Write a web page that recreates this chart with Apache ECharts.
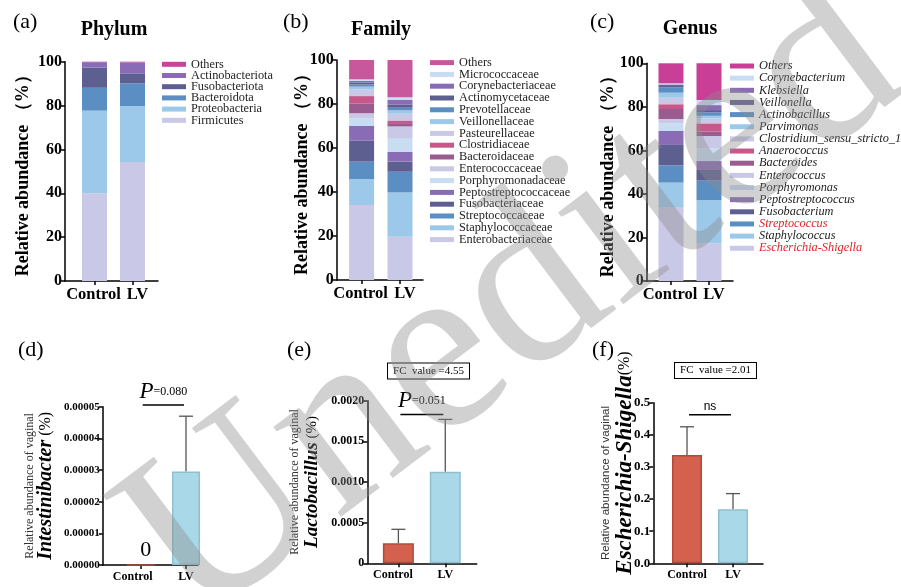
<!DOCTYPE html>
<html><head><meta charset="utf-8">
<script src="https://cdn.jsdelivr.net/npm/echarts@6/dist/echarts.min.js"></script>
<style>html,body{margin:0;padding:0;background:#fff}#c{width:901px;height:587px}</style>
</head><body><div id="c"></div>
<script>
// ---------------- DATA ----------------
const groups = ['Control', 'LV'];

// stacked from bottom to top
const phylumNames = ['Firmicutes','Proteobacteria','Bacteroidota','Fusobacteriota','Actinobacteriota','Others'];
const phylumControl = [40.0, 37.7, 10.4, 9.2, 2.5, 0.2];
const phylumLV      = [54.3, 25.5, 10.3, 4.6, 5.0, 0.3];

const familyNames = ['Enterobacteriaceae','Staphylococcaceae','Streptococcaceae','Fusobacteriaceae','Peptostreptococcaceae','Porphyromonadaceae','Enterococcaceae','Bacteroidaceae','Clostridiaceae','Pasteurellaceae','Veillonellaceae','Prevotellaceae','Actinomycetaceae','Corynebacteriaceae','Micrococcaceae','Others'];
const familyControl = [34.1, 11.8, 7.9, 9.5, 6.7, 3.5, 2.3, 4.5, 3.3, 3.1, 1.2, 1.0, 0.9, 0.7, 0.7, 8.8];
const familyLV      = [19.7, 20.1, 9.4, 4.6, 4.5, 5.9, 5.6, 1.5, 1.2, 3.1, 1.5, 1.2, 1.5, 2.1, 1.2, 16.9];

const genusNames = ['Escherichia-Shigella','Staphylococcus','Streptococcus','Fusobacterium','Peptostreptococcus','Porphyromonas','Enterococcus','Bacteroides','Anaerococcus','Clostridium_sensu_stricto_1','Parvimonas','Actinobacillus','Veillonella','Klebsiella','Corynebacterium','Others'];
const genusControl = [34.0, 11.2, 7.9, 9.4, 6.4, 3.5, 2.0, 4.6, 2.2, 3.0, 2.3, 2.5, 1.0, 0.3, 0.5, 9.2];
const genusLV      = [17.2, 19.9, 9.0, 4.9, 4.1, 5.9, 5.6, 2.0, 3.8, 2.3, 1.2, 1.6, 1.0, 2.3, 2.3, 16.9];
const genusRed = ['Streptococcus','Escherichia-Shigella'];

const intestMean = [0, 0.0000295];
const intestErr  = [0, 0.0000175];
const lactoMean  = [0.000246, 0.001127];
const lactoErr   = [0.000172, 0.000643];
const eshMean    = [0.337, 0.168];
const eshErr     = [0.088, 0.049];

const pIntest = '=0.080';
const pLacto = '=0.051';
const fcLacto = 'FC  value =4.55';
const fcEsh = 'FC  value =2.01';

// ---------------- STYLE ----------------
const SERIF = 'Liberation Serif';
const SANS = 'Liberation Sans';
const stackColors = ['#c9c8e6','#9cc8ea','#5b8fc4','#5e5f91','#8a6cb6','#c8ddf2','#c9c8e6','#9a5b8f','#c6598a','#c9c8e6','#9cc8ea','#5b8fc4','#5e5f91','#8a6cb6','#c8ddf2'];
const othersColors = ['#c8449a','#c6589b','#c93e97'];
const ctrlFill = '#d4604e', ctrlBorder = '#b4483b';
const lvFill = '#a9d9e8', lvBorder = '#8fc0cf';
const AX = {color:'#000', width:1.5};

// frame grids (axes) 0-5, data grids for stacked panels 6-8
const gridBoxes = [
  [65, 61.7, 93, 219.3],
  [336.7, 60, 86.3, 220],
  [646.7, 63.3, 86.3, 217.7],
  [102.7, 406.7, 95.3, 158.3],
  [367.3, 400.7, 109.4, 162.6],
  [653.3, 402.7, 109.7, 160.6],
  [75.5, 61.7, 76, 219.3],
  [342.4, 60, 76.8, 220],
  [652, 63.3, 76, 217.7]
];
const grids = gridBoxes.map(b => ({left:b[0], top:b[1], width:b[2], height:b[3], outerBoundsMode:'none', containLabel:false}));
const xRanges = [null,null,null,[0.161,2.265],[0.337,2.67],[0.267,2.652]];
const ctrlShift = [0,0,0,16,11,0];

const xAxes = [];
for (let i = 0; i < 3; i++) {
  xAxes.push({gridIndex:i, type:'value', min:0, max:1, axisLine:{show:true, onZero:false, lineStyle:AX},
    axisTick:{show:false}, axisLabel:{show:false}, splitLine:{show:false}});
}
for (let i = 3; i < 6; i++) {
  const sh = ctrlShift[i];
  xAxes.push({gridIndex:i, type:'value', min:xRanges[i][0], max:xRanges[i][1],
    axisLine:{show:true, onZero:false, lineStyle:AX},
    axisTick:{show:true, customValues:[1,2], length:4, lineStyle:AX},
    axisLabel:{show:true, customValues:[1,2], hideOverlap:false,
      formatter:v => Math.round(v) === 1 ? '{c|'+groups[0]+'}' : '{l|'+groups[1]+'}',
      rich:{c:{fontFamily:SERIF, fontWeight:'bold', fontSize:12, color:'#000', padding:[0,sh,0,0]},
            l:{fontFamily:SERIF, fontWeight:'bold', fontSize:12, color:'#000'}},
      margin:6},
    splitLine:{show:false}});
}
for (let i = 6; i < 9; i++) {
  xAxes.push({gridIndex:i, type:'category', boundaryGap:true,
    data:[{value:groups[0], textStyle:{padding:[0,2,0,0]}}, {value:groups[1], textStyle:{padding:[0,0,0,10]}}],
    axisLine:{show:false}, axisTick:{show:true, alignWithLabel:true, length:4, lineStyle:AX},
    axisLabel:{show:true, interval:0, hideOverlap:false, fontFamily:SERIF, fontWeight:'bold', fontSize:16.5, color:'#000', margin:5},
    splitLine:{show:false}});
}

function yAxisFor(i, cfg) {
  return Object.assign({
    gridIndex:i, type:'value', min:0,
    axisLine:{show:true, lineStyle:AX},
    axisTick:{show:true, length:4, lineStyle:AX},
    splitLine:{show:false},
    nameLocation:'middle', nameRotate:90, nameMoveOverlap:false
  }, cfg);
}
const topNameStyle = {fontFamily:SERIF, fontWeight:'bold', fontSize:18, color:'#000'};
const topLabel = {fontFamily:SERIF, fontWeight:'bold', fontSize:16, color:'#000', margin:3};

const yAxes = [
  yAxisFor(0,{max:100, interval:20, axisLabel:topLabel, name:'Relative abundance （%）', nameGap:33, nameTextStyle:topNameStyle}),
  yAxisFor(1,{max:100, interval:20, axisLabel:topLabel, name:'Relative abundance （%）', nameGap:25, nameTextStyle:topNameStyle}),
  yAxisFor(2,{max:100, interval:20, axisLabel:topLabel, name:'Relative abundance （%）', nameGap:29, nameTextStyle:topNameStyle}),
  yAxisFor(3,{max:0.00005, interval:0.00001,
    axisLabel:{fontFamily:SERIF, fontWeight:'bold', fontSize:11, color:'#000', margin:3, formatter:v=>v.toFixed(5)},
    name:'{a|Relative abundance of vaginal}\n{b|Intestinibacter}{c| (%)}', nameGap:47,
    nameTextStyle:{rich:{
      a:{fontFamily:SERIF, fontSize:12, color:'#333', lineHeight:12},
      b:{fontFamily:SERIF, fontStyle:'italic', fontWeight:'bold', fontSize:20, color:'#000', lineHeight:20},
      c:{fontFamily:SERIF, fontSize:16, color:'#000', lineHeight:20}}}}),
  yAxisFor(4,{max:0.002, interval:0.0005,
    axisLabel:{fontFamily:SERIF, fontWeight:'bold', fontSize:12, color:'#000', margin:3, formatter:v=>v===0?'0':v.toFixed(4)},
    name:'{a|Relative abundance of vaginal}\n{b|Lactobacillus}{c| (%)}', nameGap:45,
    nameTextStyle:{rich:{
      a:{fontFamily:SERIF, fontSize:12, color:'#333', lineHeight:14},
      b:{fontFamily:SERIF, fontStyle:'italic', fontWeight:'bold', fontSize:19, color:'#000', lineHeight:20},
      c:{fontFamily:SERIF, fontSize:15, color:'#000', lineHeight:20}}}}),
  yAxisFor(5,{max:0.5, interval:0.1,
    axisLabel:{fontFamily:SERIF, fontWeight:'bold', fontSize:13, color:'#000', margin:3, formatter:v=>v.toFixed(1)},
    name:'{a|Relative abundance of vaginal}\n{b|Escherichia-Shigella}{c|(%)}', nameGap:17,
    nameTextStyle:{rich:{
      a:{fontFamily:SANS, fontSize:11.5, color:'#333', lineHeight:14},
      b:{fontFamily:SERIF, fontStyle:'italic', fontWeight:'bold', fontSize:23, color:'#000', lineHeight:23, padding:[0,0,0,40]},
      c:{fontFamily:SERIF, fontSize:16, color:'#000', lineHeight:23}}}})
];
for (let i = 6; i < 9; i++) yAxes.push({gridIndex:i, type:'value', min:0, max:100, show:false});

function stackSeries(names, ctrl, lv, gi, othersColor) {
  return names.map((n, k) => ({
    type:'bar', name:n, xAxisIndex:gi, yAxisIndex:gi, stack:'s'+gi, barWidth:25,
    data:[ctrl[k], lv[k]],
    itemStyle:{color: n==='Others' ? othersColor : stackColors[k]},
    emphasis:{disabled:true}, animation:false, silent:true
  }));
}
function meanSeries(gi, mean, bw) {
  return {
    type:'bar', xAxisIndex:gi, yAxisIndex:gi, barWidth:bw, animation:false, silent:true,
    data:[
      {value:[1, mean[0]], itemStyle:{color:ctrlFill, borderColor:ctrlBorder, borderWidth:1.5}},
      {value:[2, mean[1]], itemStyle:{color:lvFill, borderColor:lvBorder, borderWidth:1.5}}
    ]
  };
}
function errSeries(gi, mean, err) {
  const d = [];
  mean.forEach((m, k) => { if (err[k] > 0) d.push([k+1, m, err[k]]); });
  return {
    type:'custom', xAxisIndex:gi, yAxisIndex:gi, animation:false, silent:true, z:1,
    encode:{x:0, y:1}, data:d,
    renderItem:(params, api) => {
      const x = api.value(0), m = api.value(1), e = api.value(2);
      const p0 = api.coord([x, m]), p1 = api.coord([x, m+e]);
      const hw = 7, st = {stroke:'#555', lineWidth:1.3};
      return {type:'group', children:[
        {type:'line', shape:{x1:p0[0], y1:p0[1], x2:p1[0], y2:p1[1]}, style:st},
        {type:'line', shape:{x1:p1[0]-hw, y1:p1[1], x2:p1[0]+hw, y2:p1[1]}, style:st}
      ]};
    }
  };
}

const series = [].concat(
  stackSeries(phylumNames, phylumControl, phylumLV, 6, othersColors[0]),
  stackSeries(familyNames, familyControl, familyLV, 7, othersColors[1]),
  stackSeries(genusNames, genusControl, genusLV, 8, othersColors[2]),
  [meanSeries(3, intestMean, 28), errSeries(3, intestMean, intestErr),
   meanSeries(4, lactoMean, 31), errSeries(4, lactoMean, lactoErr),
   meanSeries(5, eshMean, 30), errSeries(5, eshMean, eshErr)]
);

const LFS = 12.3;
function legendFor(names, left, top, gap, othersColor, italic) {
  return {
    orient:'vertical', left:left, top:top, padding:0, itemGap:gap, itemWidth:24, itemHeight:5, icon:'rect',
    selectedMode:false,
    data: names.slice().reverse().map(n => n==='Others' ? {name:n, itemStyle:{color:othersColor}} : n),
    formatter: italic ? (n => genusRed.indexOf(n) >= 0 ? '{r|'+n+'}' : n) : undefined,
    textStyle:{fontFamily:SERIF, fontSize:LFS, color:'#222', fontStyle: italic?'italic':'normal',
      rich: italic ? {r:{fontFamily:SERIF, fontSize:LFS, fontStyle:'italic', color:'#e0242b'}} : undefined}
  };
}

const chart = echarts.init(document.getElementById('c'), null, {renderer:'canvas'});
chart.setOption({
  backgroundColor:'#fff',
  animation:false,
  grid: grids,
  xAxis: xAxes,
  yAxis: yAxes,
  legend: [
    legendFor(phylumNames, 162, 58.3, -0.8, othersColors[0], false),
    legendFor(familyNames, 430, 56.6, -0.2, othersColors[1], false),
    legendFor(genusNames, 730, 60, 0.15, othersColors[2], true)
  ],
  series: series
});

// ---------- annotations positioned through the chart's own scales ----------
function px(gi, x, y) { return chart.convertToPixel({xAxisIndex:gi, yAxisIndex:gi}, [x, y]); }
const g = [];
function label(text, x, y, size, bold, align) {
  g.push({type:'text', x:x, y:y, style:{text:text, fontFamily:SERIF, fontSize:size, fontWeight:bold?'bold':'normal', fill:'#000', align:align||'left', verticalAlign:'middle'}});
}
label('(a)', 13, 22, 22, false);
label('(b)', 283, 22, 22, false);
label('(c)', 590, 22, 22, false);
label('(d)', 18, 350, 22, false);
label('(e)', 287, 350, 22, false);
label('(f)', 592, 350, 22, false);
label('Phylum', 114, 30, 20, true, 'center');
label('Family', 381, 30, 20, true, 'center');
label('Genus', 690, 29, 20, true, 'center');

function sigLine(gi, yv, rich, richStyles) {
  const a = px(gi, 1, yv), b = px(gi, 2, yv);
  const x1 = a[0] + 2, x2 = b[0] - 2;
  g.push({type:'line', shape:{x1:x1, y1:a[1], x2:x2, y2:a[1]}, style:{stroke:'#000', lineWidth:1.5}});
  g.push({type:'text', x:(x1+x2)/2, y:a[1]-2, style:{text:rich, rich:richStyles, align:'center', verticalAlign:'bottom', fill:'#000'}});
}
const pStyles = {p:{fontFamily:SERIF, fontStyle:'italic', fontSize:23, fill:'#000'}, v:{fontFamily:SERIF, fontSize:12, fill:'#000'}};
sigLine(3, 0.0000505, '{p|P}{v|'+pIntest+'}', pStyles);
sigLine(4, 0.00183, '{p|P}{v|'+pLacto+'}', pStyles);
sigLine(5, 0.4626, '{n|ns}', {n:{fontFamily:SANS, fontSize:12, fill:'#000'}});

// zero label above the Control bar of panel (d)
const z0 = px(3, 1, intestMean[0]);
g.push({type:'text', x:z0[0]+5, y:z0[1]-4, style:{text:String(intestMean[0]), fontFamily:SERIF, fontSize:22, fill:'#000', align:'center', verticalAlign:'bottom'}});

function fcBox(text, cx, cy) {
  g.push({type:'text', x:cx, y:cy, style:{text:text, fontFamily:SERIF, fontSize:11, fill:'#000', align:'center', verticalAlign:'middle',
    borderColor:'#000', borderWidth:1, padding:[2,5], backgroundColor:'#fff'}});
}
fcBox(fcLacto, 428.5, 371);
fcBox(fcEsh, 715.5, 370.5);

// watermark
g.push({type:'text', x:515, y:305, rotation:37*Math.PI/180, z:100,
  style:{text:'Unedited', fontFamily:SERIF, fontSize:245, fill:'rgba(140,140,140,0.4)', align:'center', verticalAlign:'middle'}});

chart.setOption({graphic:{elements:g}});
</script></body></html>
